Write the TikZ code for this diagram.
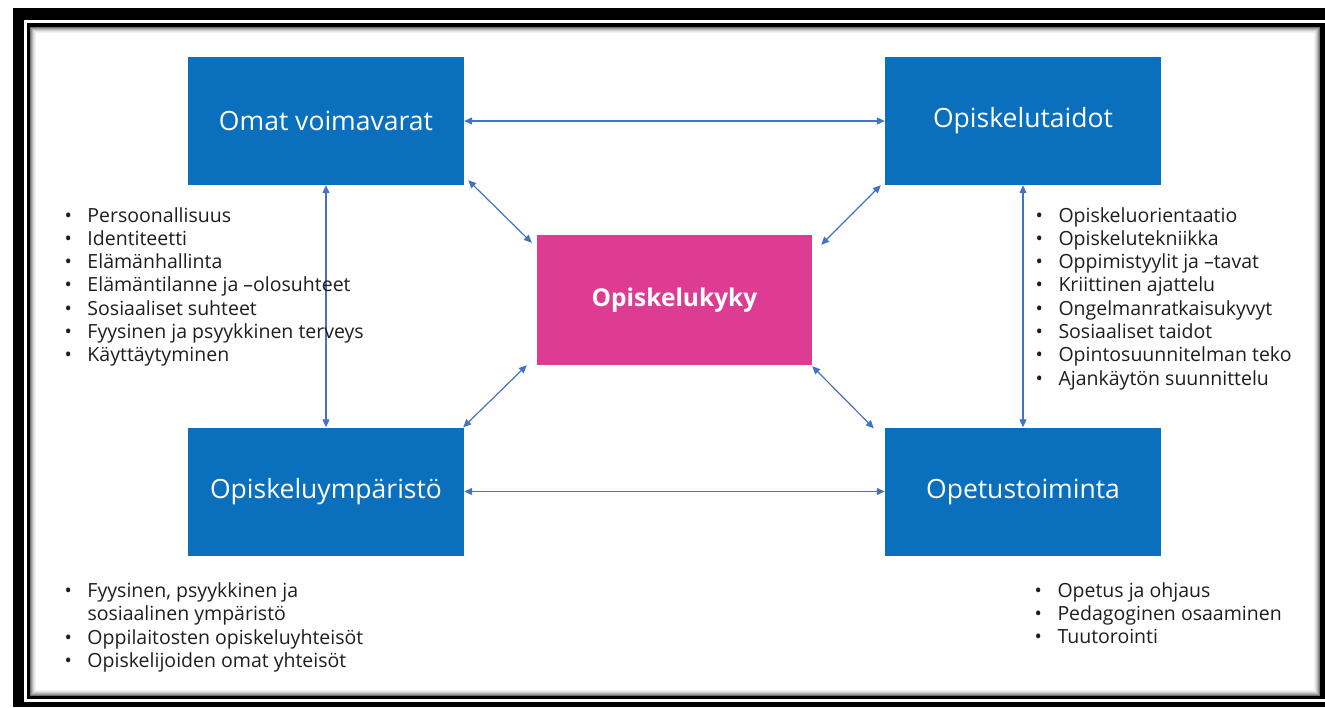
\documentclass[tikz,border=0pt]{standalone}
\usepackage{fontspec}
\setmainfont{Open Sans}
\usetikzlibrary{arrows.meta,calc}
\definecolor{boxblue}{RGB}{10,112,190}
\definecolor{pinkc}{RGB}{222,60,146}
\definecolor{arrowc}{RGB}{68,114,196}
\definecolor{txt}{RGB}{30,30,30}
\newcommand\blt{\makebox[23pt][l]{•}}
\begin{document}
\begin{tikzpicture}[x=1pt,y=-1pt,
  bigbox/.style={fill=boxblue, draw=none, minimum width=276pt, minimum height=128pt,
    inner sep=0pt, text=white, font=\fontsize{26.5}{30}\selectfont},
  corebox/.style={fill=pinkc, draw=none, minimum width=275pt, minimum height=130pt,
    inner sep=0pt, text=white, font=\fontsize{24.5}{28}\selectfont\bfseries},
  link/.style={draw=arrowc, line width=1.2pt,
    {Triangle[length=8pt,width=7pt]}-{Triangle[length=8pt,width=7pt]}},
  blist/.style={anchor=base west, inner sep=0pt, text=txt,
    font=\fontsize{19.5}{23.3}\selectfont}
]
\useasboundingbox (0,0) rectangle (1325,707);
% frame
\fill[white] (0,0) rectangle (1325,707);
\fill[black] (13,8) rectangle (1325,707);
\fill[white] (23.5,20) rectangle (1325,702);
\fill[black] (26.5,23) rectangle (1325,699);
\fill[white] (30,27) rectangle (1320,696);
\foreach \k/\g in {0.5/55,1.5/40,2.5/28,3.5/18,4.5/10,5.5/5}
  \draw[black!\g, line width=1pt] ({30+\k},{27+\k}) rectangle ({1320-\k},{696-\k});

% boxes
\node[bigbox] (omat) at (326,121) {Omat voimavarat};
\node[bigbox] (taidot) at (1023,121) {Opiskelutaidot};
\node[bigbox] (ymp) at (326,491.5) {Opiskeluympäristö};
\node[bigbox] (opetus) at (1023,491.5) {Opetustoiminta};
\node[corebox] (kyky) at (674.5,300) {Opiskelukyky};

% connectors
\draw[link] (omat.east) -- (taidot.west);
\draw[link] (ymp.east) -- (opetus.west);
\draw[link] (omat.south) -- (ymp.north);
\draw[link] (taidot.south) -- (opetus.north);

\coordinate (d1s) at ($(omat.south east)+(4,-5)$);
\coordinate (d1e) at ($(kyky.north west)+(-5,8)$);
\coordinate (d2s) at ($(taidot.south west)+(-4,0)$);
\coordinate (d2e) at ($(kyky.north east)+(9,10)$);
\coordinate (d3s) at ($(kyky.south west)+(-10,0)$);
\coordinate (d3e) at ($(ymp.north east)+(-1,0)$);
\coordinate (d4s) at ($(kyky.south east)+(0,1)$);
\coordinate (d4e) at ($(opetus.north west)+(-11,1)$);
\draw[link] (d1s) -- (d1e);
\draw[link] (d2s) -- (d2e);
\draw[link] (d3s) -- (d3e);
\draw[link] (d4s) -- (d4e);

% lists
\node[blist] (l1) at (64.3,222) {\begin{tabular}[t]{@{}l@{}l@{}}
\blt & Persoonallisuus\\
\blt & Identiteetti\\
\blt & Elämänhallinta\\
\blt & Elämäntilanne ja –olosuhteet\\
\blt & Sosiaaliset suhteet\\
\blt & Fyysinen ja psyykkinen terveys\\
\blt & Käyttäytyminen
\end{tabular}};
\node[blist] (l2) at (1035.3,222) {\begin{tabular}[t]{@{}l@{}l@{}}
\blt & Opiskeluorientaatio\\
\blt & Opiskelutekniikka\\
\blt & Oppimistyylit ja –tavat\\
\blt & Kriittinen ajattelu\\
\blt & Ongelmanratkaisukyvyt\\
\blt & Sosiaaliset taidot\\
\blt & Opintosuunnitelman teko\\
\blt & Ajankäytön suunnittelu
\end{tabular}};
\node[blist] (l3) at (64.3,597.5) {\begin{tabular}[t]{@{}l@{}l@{}}
\blt & Fyysinen, psyykkinen ja\\
 & sosiaalinen ympäristö\\
\blt & Oppilaitosten opiskeluyhteisöt\\
\blt & Opiskelijoiden omat yhteisöt
\end{tabular}};
\node[blist] (l4) at (1034.3,597) {\begin{tabular}[t]{@{}l@{}l@{}}
\blt & Opetus ja ohjaus\\
\blt & Pedagoginen osaaminen\\
\blt & Tuutorointi
\end{tabular}};
\end{tikzpicture}
\end{document}
